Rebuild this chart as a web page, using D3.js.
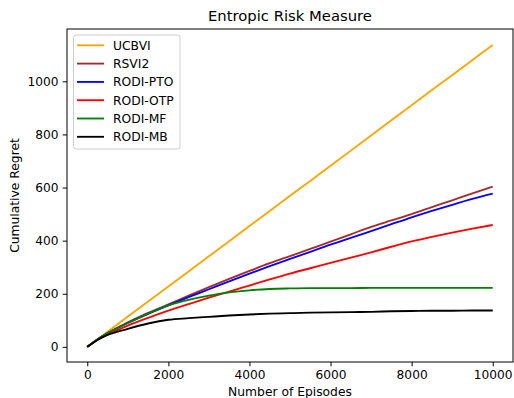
<!DOCTYPE html>
<html><head><meta charset="utf-8">
<script src="https://cdn.jsdelivr.net/npm/d3@7"></script>
<style>
body{margin:0;background:#fff;}
svg{font-family:"DejaVu Sans",sans-serif;}
</style></head>
<body><svg id="c" width="514" height="398"></svg>
<script>
const episodes = [0,250,500,1000,1500,2000,2500,3000,3500,4000,4500,5000,5500,6000,6500,7000,7500,8000,8500,9000,9500,10000];
const seriesNames = ["UCBVI","RSVI2","RODI-PTO","RODI-OTP","RODI-MF","RODI-MB"];
const seriesColors = ["#FFA500","#A52A2A","#0000FF","#FF0000","#008000","#000000"];
const ucbvi   = [0,28,57,114,171,227,284,341,398,455,512,569,625,682,739,796,853,910,967,1023,1080,1137];
const rsvi2   = [0,28,52,92,128,160,193,225,256,286,315,342,369,396,424,452,476,500,526,552,578,603];
const rodiPto = [0,28,51,90,124,156,187,217,247,276,304,331,358,385,410,436,462,488,512,535,557,577];
const rodiOtp = [0,26,46,80,109,136,161,185,208,231,254,276,296,316,336,356,377,397,414,430,445,459];
const rodiMf  = [0,28,51,90,125,156,177,193,205,213,218,220,221,221,221,222,222,222,222,222,222,222];
const rodiMb  = [0,26,45,68,88,102,108,113,118,122,125,127,129,130,131,132,134,135,136,136,137,137];
const seriesValues = [ucbvi, rsvi2, rodiPto, rodiOtp, rodiMf, rodiMb];
const xTicks = [0,2000,4000,6000,8000,10000];
const yTicks = [0,200,400,600,800,1000];

const svg = d3.select("#c");
const L=67, R=513, T=29, B=362;
const x = d3.scaleLinear().domain([-500,10500]).range([L,R]);
const y = d3.scaleLinear().domain([-57,1197]).range([B,T]);

const line = d3.line().x(d=>x(d[0])).y(d=>y(d[1])).curve(d3.curveMonotoneX);
seriesValues.forEach((vals,i)=>{
  svg.append("path").datum(episodes.map((e,j)=>[e,vals[j]]))
    .attr("d", line)
    .attr("fill","none").attr("stroke",seriesColors[i]).attr("stroke-width",1.85);
});

const xAxis = svg.append("g").attr("transform",`translate(0,${B})`)
  .call(d3.axisBottom(x).tickValues(xTicks).tickSize(4.3).tickPadding(4.3).tickFormat(d3.format("d")));
const yAxis = svg.append("g").attr("transform",`translate(${L},0)`)
  .call(d3.axisLeft(y).tickValues(yTicks).tickSize(4.3).tickPadding(4.3).tickFormat(d3.format("d")));
[xAxis,yAxis].forEach(a=>{
  a.select(".domain").remove();
  a.selectAll("text").attr("font-size","12.2px").attr("fill","#000").attr("font-family","DejaVu Sans");
  a.selectAll("line").attr("stroke","#000").attr("stroke-width",1);
});
svg.append("rect").attr("x",L).attr("y",T).attr("width",R-L).attr("height",B-T)
  .attr("fill","none").attr("stroke","#000").attr("stroke-width",1);

svg.append("text").attr("x",(L+R)/2).attr("y",21).attr("text-anchor","middle")
  .attr("font-size","14.8px").text("Entropic Risk Measure");
svg.append("text").attr("x",(L+R)/2).attr("y",396).attr("text-anchor","middle")
  .attr("font-size","12.3px").text("Number of Episodes");
svg.append("text").attr("transform",`translate(19,${(T+B)/2}) rotate(-90)`).attr("text-anchor","middle")
  .attr("font-size","12.3px").text("Cumulative Regret");

const lg = svg.append("g");
lg.append("rect").attr("x",73.5).attr("y",35).attr("width",106.5).attr("height",114)
  .attr("rx",2.5).attr("fill","#fff").attr("fill-opacity",0.8).attr("stroke","#cccccc").attr("stroke-width",1);
seriesNames.forEach((n,i)=>{
  const yy = 45.3 + i*18.3;
  lg.append("line").attr("x1",77).attr("x2",104).attr("y1",yy).attr("y2",yy)
    .attr("stroke",seriesColors[i]).attr("stroke-width",1.85);
  lg.append("text").attr("x",113).attr("y",yy+4.5).attr("font-size","12.3px").text(n);
});
</script></body></html>
